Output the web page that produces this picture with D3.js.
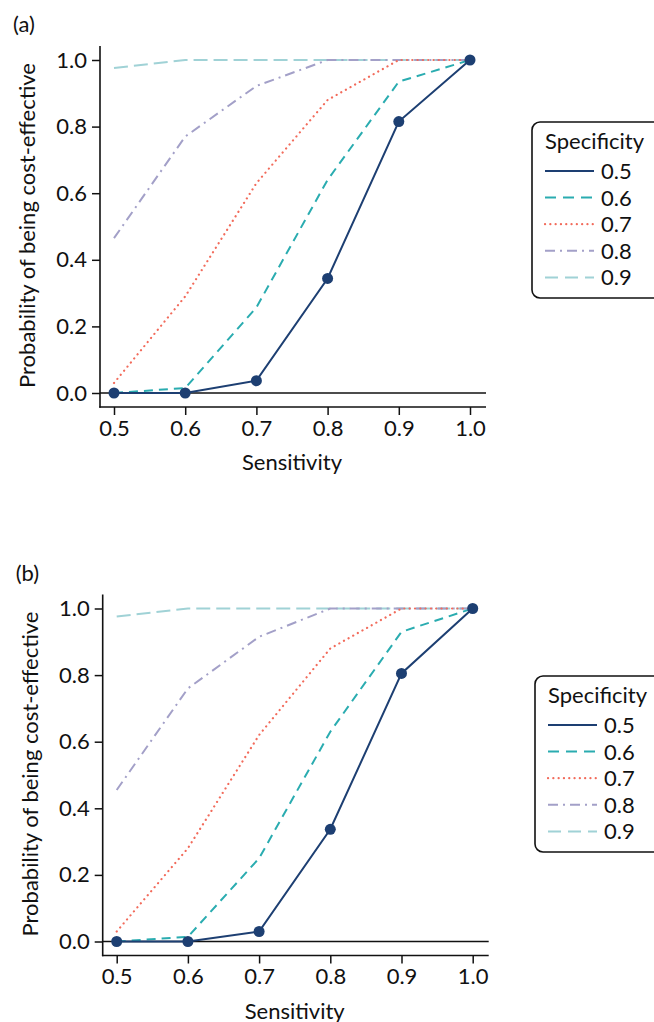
<!DOCTYPE html>
<html>
<head>
<meta charset="utf-8">
<script src="https://cdn.jsdelivr.net/npm/d3@7"></script>
<style>
  html, body { margin: 0; padding: 0; background: #fff; }
  svg text { font-family: Lato, "Open Sans", sans-serif; fill: #111; }
</style>
</head>
<body>
<svg id="chart" width="654" height="1022"></svg>
<script>
// Sensitivity values on the x axis
const sensitivity = [0.5, 0.6, 0.7, 0.8, 0.9, 1.0];
// Specificity levels (one curve each)
const specificity = ["0.5", "0.6", "0.7", "0.8", "0.9"];
const xTicks = [0.5, 0.6, 0.7, 0.8, 0.9, 1.0];
const yTicks = [0.0, 0.2, 0.4, 0.6, 0.8, 1.0];

// Panel (a): probability of being cost-effective, by specificity
const a_spec05 = [0.0, 0.0, 0.037, 0.344, 0.815, 1.0];
const a_spec06 = [0.0, 0.015, 0.257, 0.64, 0.935, 1.0];
const a_spec07 = [0.03, 0.29, 0.63, 0.88, 1.0, 1.0];
const a_spec08 = [0.465, 0.77, 0.922, 1.0, 1.0, 1.0];
const a_spec09 = [0.976, 1.0, 1.0, 1.0, 1.0, 1.0];

// Panel (b)
const b_spec05 = [0.0, 0.0, 0.03, 0.337, 0.805, 1.0];
const b_spec06 = [0.0, 0.014, 0.25, 0.63, 0.93, 1.0];
const b_spec07 = [0.03, 0.28, 0.62, 0.88, 1.0, 1.0];
const b_spec08 = [0.455, 0.76, 0.915, 1.0, 1.0, 1.0];
const b_spec09 = [0.976, 1.0, 1.0, 1.0, 1.0, 1.0];

const FS = 22;

const styles = {
  "0.5": { color: "#1d3f72", dash: null, width: 2, cap: "butt" },
  "0.6": { color: "#2aacb0", dash: "9,6", width: 2, cap: "butt" },
  "0.7": { color: "#f26b5b", dash: "0.1,5.2", width: 2.2, cap: "round" },
  "0.8": { color: "#a3a0c8", dash: "10,5,2,5", width: 2, cap: "butt" },
  "0.9": { color: "#a0d2d6", dash: "14,6", width: 2, cap: "butt" }
};

const svg = d3.select("#chart");

function drawPanel(tag, series, o) {
  const g = svg.append("g").attr("transform", `translate(${o.dx},${o.dy})`);

  const x = d3.scaleLinear().domain([0.5, 1.0]).range([114, 470]);
  const y = d3.scaleLinear().domain([0, 1]).range([393, 60]);
  const axisX = 100, axisY = 407;

  // y axis
  const ya = g.append("g").attr("transform", `translate(${axisX},0)`)
    .call(d3.axisLeft(y).tickValues(yTicks).tickFormat(d3.format(".1f"))
      .tickSize(8).tickPadding(5).tickSizeOuter(0));
  ya.select(".domain").remove();
  ya.selectAll(".tick line").attr("stroke", "#111").attr("stroke-width", 1.5);
  ya.selectAll(".tick text").attr("font-size", FS).attr("font-family", "Lato");
  g.append("line").attr("x1", axisX).attr("x2", axisX).attr("y1", 46).attr("y2", axisY + 0.75)
    .attr("stroke", "#111").attr("stroke-width", 1.6);

  // x axis
  const xa = g.append("g").attr("transform", `translate(0,${axisY})`)
    .call(d3.axisBottom(x).tickValues(xTicks).tickFormat(d3.format(".1f"))
      .tickSize(8).tickPadding(5).tickSizeOuter(0));
  xa.select(".domain").remove();
  xa.selectAll(".tick line").attr("stroke", "#111").attr("stroke-width", 1.5);
  xa.selectAll(".tick text").attr("font-size", FS).attr("font-family", "Lato");
  g.append("line").attr("x1", axisX - 0.75).attr("x2", 486).attr("y1", axisY).attr("y2", axisY)
    .attr("stroke", "#111").attr("stroke-width", 1.6);

  // reference line at zero
  g.append("line").attr("x1", axisX).attr("x2", 486).attr("y1", y(0)).attr("y2", y(0))
    .attr("stroke", "#111").attr("stroke-width", 1.6);

  // titles
  g.append("text").attr("x", 292).attr("y", 470).attr("text-anchor", "middle")
    .attr("font-size", FS).text("Sensitivity");
  g.append("text").attr("transform", `translate(35,${y(0.5) - 1}) rotate(-90)`)
    .attr("text-anchor", "middle").attr("font-size", FS)
    .text("Probability of being cost-effective");
  g.append("text").attr("x", 13).attr("y", 32).attr("font-size", FS).text(tag);

  const line = d3.line().x((d, i) => x(sensitivity[i])).y(d => y(d));

  // curves, drawn from highest specificity down so the solid one is on top
  specificity.slice().reverse().forEach(k => {
    const s = styles[k];
    g.append("path").datum(series[k])
      .attr("fill", "none").attr("stroke", s.color).attr("stroke-width", s.width)
      .attr("stroke-dasharray", s.dash)
      .attr("stroke-linecap", s.cap)
      .attr("d", line);
  });

  // markers on the specificity 0.5 curve
  g.selectAll("circle.pt").data(series["0.5"]).enter().append("circle")
    .attr("class", "pt")
    .attr("cx", (d, i) => x(sensitivity[i])).attr("cy", d => y(d)).attr("r", 5.5)
    .attr("fill", styles["0.5"].color);

  // legend
  const lg = g.append("g").attr("transform", `translate(${o.lx},${o.ly})`);
  lg.append("rect").attr("x", 0).attr("y", 0).attr("width", 140).attr("height", 176)
    .attr("rx", 8).attr("fill", "#fff").attr("stroke", "#111").attr("stroke-width", 1.6);
  lg.append("text").attr("x", 13).attr("y", 27).attr("font-size", FS).text("Specificity");
  specificity.forEach((k, i) => {
    const s = styles[k];
    const yy = 49 + i * 26.6;
    lg.append("line").attr("x1", 13).attr("x2", 62).attr("y1", yy).attr("y2", yy)
      .attr("stroke", s.color).attr("stroke-width", s.width)
      .attr("stroke-dasharray", k === "0.6" ? "11,7" : k === "0.9" ? "13,7" : s.dash)
      .attr("stroke-linecap", s.cap);
    lg.append("text").attr("x", 69).attr("y", yy + 8).attr("font-size", FS).text(k);
  });
}

drawPanel("(a)", { "0.5": a_spec05, "0.6": a_spec06, "0.7": a_spec07, "0.8": a_spec08, "0.9": a_spec09 },
  { dx: 0, dy: 0, lx: 532, ly: 122 });
drawPanel("(b)", { "0.5": b_spec05, "0.6": b_spec06, "0.7": b_spec07, "0.8": b_spec08, "0.9": b_spec09 },
  { dx: 2.7, dy: 548.5, lx: 532.3, ly: 127.5 });
</script>
</body>
</html>
